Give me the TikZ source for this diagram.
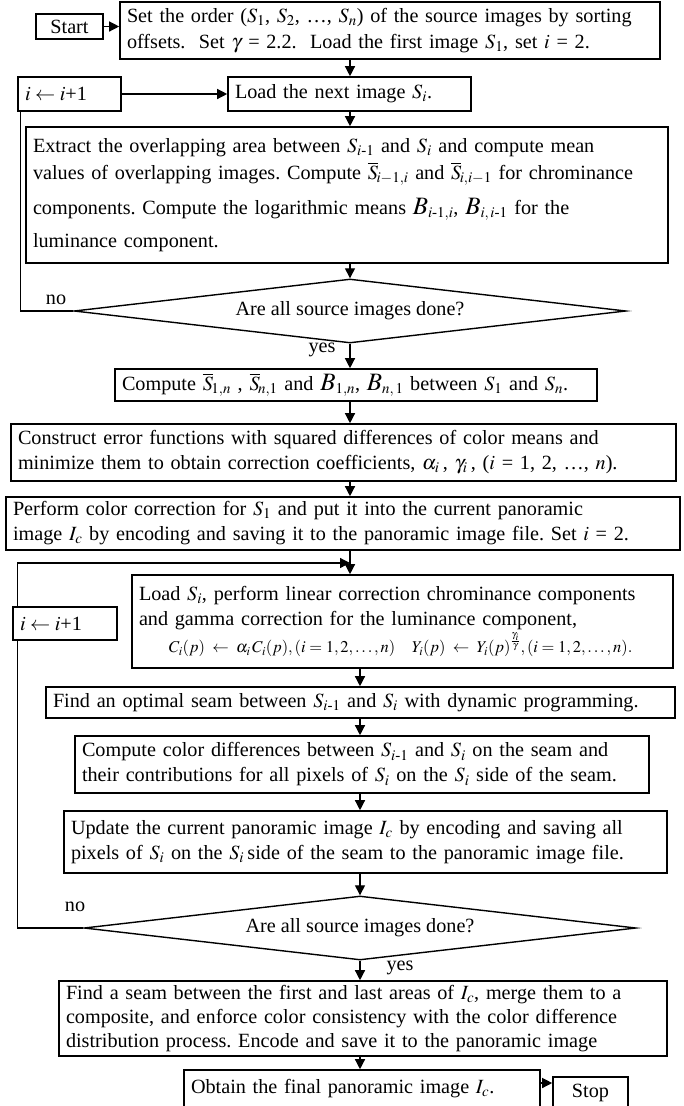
\documentclass[tikz,border=0pt]{standalone}
\usepackage{amsmath}
\usepackage{mathptmx}
\usepackage[no-math]{fontspec}
\setmainfont{Liberation Serif}
\usepackage{tikz}
\usetikzlibrary{arrows.meta, shapes.geometric}
\newcommand{\im}{\text{-}}
\newcommand{\bigB}{{\fontsize{25}{25}\selectfont$B$}}

\begin{document}
\frenchspacing
\begin{tikzpicture}[x=1pt, y=1pt,
    font=\fontsize{20.2}{25}\selectfont,
    box/.style={draw, line width=1.6pt, rectangle, align=left, inner xsep=7pt, inner ysep=0pt},
    term/.style={draw, line width=1.6pt, rectangle, align=center, inner sep=0pt},
    test/.style={draw, line width=1.4pt, diamond, shape aspect=8.6, inner sep=0pt,
        minimum width=552pt, minimum height=64pt},
    arr/.style={line width=1.3pt, -{Triangle[length=10pt, width=10pt]}},
    loop/.style={line width=1.3pt}]

    \useasboundingbox (0,0) rectangle (683,-1106);

    % ===== Column positions of the arrows =====
    \coordinate (colA) at (350,0);
    \coordinate (colB) at (360,0);
    \coordinate (join) at (350,-563);

    % ===== Initialisation =====
    \node[term, minimum width=67pt, minimum height=25pt] (start) at (69.5,-26.5) {Start};
    \node[box, text width=526pt, minimum height=57pt] (order) at (390,-30.5)
        {Set the order ($S_1$, $S_2$, \ldots, $S_n$) of the source images by sorting\\[1pt]
         offsets.\ \ Set $\gamma$ = 2.2.\ \ Load the first image $S_1$, set $i$ = 2.};

    % ===== First loop: means of the overlaps =====
    \node[box, text width=89pt, minimum height=34pt] (inc1) at (69.5,-94) {$i \leftarrow i$+1};
    \node[box, text width=229pt, minimum height=34pt] (loadnext) at (349.5,-94)
        {Load the next image $S_i$.};
    \node[box, text width=628pt, minimum height=136pt] (extract) at (347,-195)
        {Extract the overlapping area between $S_{i\im1}$ and $S_i$ and compute mean\\[2pt]
         values of overlapping images. Compute $\overline{S}_{\!i-1,i}$ and $\overline{S}_{\!i,i-1}$ for chrominance\\[10pt]
         components. Compute the logarithmic means \bigB$_{i\im1,i}$, \bigB$_{i,\,i\im1}$ for the\\[8pt]
         luminance component.};
    \node[test] (dia1) at (350,-311) {Are all source images done?};
    \node (no1) at (56,-300) {no};
    \node (yes1) at (322,-350) {yes};

    % ===== Correction coefficients =====
    \node[box, text width=468pt, minimum height=32pt] (computeS) at (356,-385)
        {Compute $\overline{S}_{\!1,n}$ , $\overline{S}_{\!n,1}$ and \bigB$_{1,n}$, \bigB$_{n,\,1}$ between $S_1$ and $S_n$.};
    \node[box, text width=651pt, minimum height=57pt] (construct) at (343.5,-452.5)
        {Construct error functions with squared differences of color means and\\
         minimize them to obtain correction coefficients, $\alpha_i$\,, $\gamma_i$\,, ($i$ = 1, 2, \ldots, $n$).};
    \node[box, text width=660pt, minimum height=53pt] (perform) at (343,-523.5)
        {Perform color correction for $S_1$ and put it into the current panoramic\\
         image $I_c$ by encoding and saving it to the panoramic image file. Set $i$ = 2.};

    % ===== Second loop: correction and seams =====
    \node[box, text width=527pt, minimum height=93pt] (loadSi) at (402.5,-621.5)
        {Load $S_i$, perform linear correction chrominance components\\
         and gamma correction for the luminance component,\\[2pt]
         \hspace*{30pt}{\fontsize{16.5}{18}\selectfont $C_i(p) \;\leftarrow\; \alpha_i\, C_i(p), (i=1,2,\ldots,n)\quad Y_i(p) \;\leftarrow\; Y_i(p)^{\frac{\gamma_i}{\gamma}}, (i=1,2,\ldots,n).$}};
    \node[box, text width=90pt, minimum height=33pt] (inc2) at (65,-623.5) {$i \leftarrow i$+1};
    \node[box, text width=615pt, minimum height=31pt] (findopt) at (360.5,-702.5)
        {Find an optimal seam between $S_{i\im1}$ and $S_i$ with dynamic programming.};
    \node[box, text width=560pt, minimum height=57pt] (compdiff) at (362,-764.5)
        {Compute color differences between $S_{i\im1}$ and $S_i$ on the seam and\\
         their contributions for all pixels of $S_i$ on the $S_i$ side of the seam.};
    \node[box, text width=589pt, minimum height=62pt] (update) at (365.5,-842)
        {Update the current panoramic image $I_c$ by encoding and saving all\\
         pixels of $S_i$ on the $S_i$\,side of the seam to the panoramic image file.};
    \node[test] (dia2) at (360,-928) {Are all source images done?};
    \node (no2) at (75,-907) {no};
    \node (yes2) at (400,-968) {yes};

    % ===== Composite and end =====
    \node[box, text width=594pt, minimum height=75pt] (findseam) at (363,-1018.5)
        {Find a seam between the first and last areas of $I_c$, merge them to a\\[-1pt]
         composite, and enforce color consistency with the color difference\\[-1pt]
         distribution process. Encode and save it to the panoramic image};
    \node[box, text width=342pt, minimum height=38pt] (obtain) at (362,-1089)
        {Obtain the final panoramic image $I_c$.};
    \node[term, minimum width=75pt, minimum height=31pt] (stop) at (590.5,-1092.5) {Stop};

    % ===== Connectors =====
    \draw[arr] (start.east) -- (start.east -| order.west);
    \draw[arr] (order.south -| colA) -- (loadnext.north -| colA);
    \draw[arr] (inc1.east) -- (loadnext.west);
    \draw[arr] (loadnext.south -| colA) -- (extract.north -| colA);
    \draw[arr] (extract.south -| colA) -- (dia1.north);
    \draw[arr] (dia1.south) -- (computeS.north -| colA);
    \draw[arr] (computeS.south -| colA) -- (construct.north -| colA);
    \draw[arr] (construct.south -| colA) -- (perform.north -| colA);
    \draw[arr] (perform.south -| colA) -- (loadSi.north -| colA);
    \draw[arr] (loadSi.south -| colB) -- (findopt.north -| colB);
    \draw[arr] (findopt.south -| colB) -- (compdiff.north -| colB);
    \draw[arr] (compdiff.south -| colB) -- (update.north -| colB);
    \draw[arr] (update.south -| colB) -- (dia2.north);
    \draw[arr] (dia2.south) -- (findseam.north -| colB);
    \draw[arr] (findseam.south -| colB) -- (obtain.north -| colB);
    \draw[arr] ([yshift=6pt]obtain.east) -- ([yshift=6pt]obtain.east -| stop.west);

    % loops back to i <- i+1
    \draw[loop] (dia1.west) -| ([xshift=3pt]inc1.south west);
    \draw[loop] (dia2.west) -| ([xshift=5pt]inc2.south west);
    \draw[arr] ([xshift=5pt]inc2.north west) |- (join);

\end{tikzpicture}
\end{document}
